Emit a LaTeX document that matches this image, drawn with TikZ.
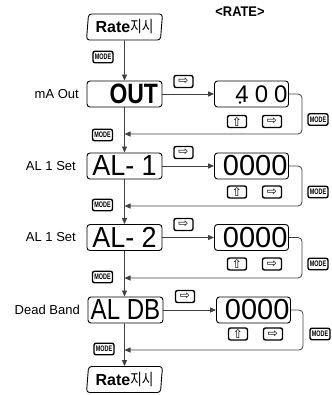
\documentclass[tikz,border=0pt]{standalone}
\usepackage{fontspec}
\setmainfont{Liberation Sans}
\newfontfamily\krfont{Noto Sans CJK KR}
\newfontfamily\symfont{DejaVu Sans}
\usetikzlibrary{arrows.meta,shapes.geometric}
\newcommand\dispfont{\fontsize{29}{29}\selectfont}
\newcommand\modetext{\scalebox{0.68}[1]{MODE}}
\begin{document}
\begin{tikzpicture}[x=1pt,y=-1pt,
  line/.style={draw=black!75, line width=0.8pt},
  flow/.style={line, -{Triangle[length=6pt,width=5pt]}},
  mainbox/.style={draw, rounded corners=3pt, line width=0.9pt, minimum height=26pt, minimum width=75pt, inner ysep=0pt, inner xsep=0pt},
  valbox/.style={draw, rounded corners=3pt, line width=0.9pt, minimum height=26pt, text width=72pt, inner xsep=1pt, inner ysep=0pt, align=right},
  ratebox/.style={trapezium, trapezium left angle=82, trapezium right angle=98, trapezium stretches body, draw, rounded corners=3pt, line width=0.9pt, minimum width=76pt, minimum height=26pt, inner sep=0pt, font=\fontsize{16}{16}\selectfont},
  key/.style={draw=black, line width=1.4pt, rounded corners=2pt, fill=white, minimum width=19pt, minimum height=12pt, inner sep=0pt, font=\symfont\fontsize{12}{12}\selectfont},
  modekey/.style={draw=black, line width=1.4pt, rounded corners=2pt, fill=white, minimum width=20pt, minimum height=11.5pt, inner sep=0pt, font=\fontsize{8}{8}\selectfont\bfseries},
  lbl/.style={anchor=east, inner sep=0pt, font=\fontsize{13}{13}\selectfont}
]
\useasboundingbox (0,0) rectangle (331,395);

% title
\node (title) at (240,12) {\fontsize{14}{14}\selectfont\bfseries\scalebox{0.92}[1]{<RATE>}};

% rate nodes
\node[ratebox] (rtop) at (124.5,27) {\textbf{Rate}\scalebox{0.78}[1]{\krfont 지시}};
\node[ratebox] (rbot) at (124.5,379.5) {\textbf{Rate}\scalebox{0.78}[1]{\krfont 지시}};

% main boxes
\node[mainbox, text width=67pt, inner xsep=4pt, align=right] (out) at (124.5,94) {\fontsize{28}{28}\selectfont\bfseries\scalebox{0.82}[1]{OUT}};
\node[mainbox] (al1) at (124.5,166) {\dispfont\scalebox{0.93}[1]{AL- 1}};
\node[mainbox] (al2) at (124.5,237.5) {\dispfont\scalebox{0.93}[1]{AL- 2}};
\node[mainbox] (aldb) at (125.5,310) {\dispfont\scalebox{0.83}[1]{AL DB}};

% labels
\node[lbl] (l1) at (79,94) {mA Out};
\node[lbl] (l2) at (76,166) {AL 1 Set};
\node[lbl] (l3) at (76,237.5) {AL 1 Set};
\node[lbl] (l4) at (80,310) {Dead Band};

% value boxes
\node[valbox] (v1) at (251.5,94) {\fontsize{24}{24}\selectfont 4\hspace{6pt}0\hspace{6pt}0};
\fill (240,102.5) circle (1.3pt);
\node[valbox] (v2) at (251.5,166) {\dispfont 0000};
\node[valbox] (v3) at (251.5,237.5) {\dispfont 0000};
\node[valbox] (v4) at (253.5,310) {\dispfont 0000};

% main vertical flow
\draw[flow] (rtop.south) -- (out.north);
\draw[flow] (out.south) -- (al1.north);
\draw[flow] (al1.south) -- (al2.north);
\draw[flow] (al2.south) -- (al2.south |- aldb.north);
\draw[flow] (aldb.south -| al2.south) -- (rbot.north);

% horizontal arrows
\draw[flow] (out.east) -- (v1.west);
\draw[flow] (al1.east) -- (v2.west);
\draw[flow] (al2.east) -- (v3.west);
\draw[flow] (aldb.east) -- (v4.west);

% return paths
\coordinate (c1) at (302,134);   \coordinate (m1) at (124.5,134);
\coordinate (c2) at (302,206);   \coordinate (m2) at (124.5,206);
\coordinate (c3) at (302,278);   \coordinate (m3) at (124.5,278);
\coordinate (c4) at (303,350);   \coordinate (m4) at (124.5,350);
\draw[flow, rounded corners=4pt] (v1.east) -| (c1) -- (m1);
\draw[flow, rounded corners=4pt] (v2.east) -| (c2) -- (m2);
\draw[flow, rounded corners=4pt] (v3.east) -| (c3) -- (m3);
\draw[flow, rounded corners=4pt] (v4.east) -| (c4) -- (m4);

% right-arrow keys above the arrows
\node[key] (k1) at (183.5,81.5) {⇨};
\node[key] (k2) at (183.5,152.5) {⇨};
\node[key] (k3) at (183.5,224.5) {⇨};
\node[key] (k4) at (185,296.5) {⇨};

% up / right keys below value boxes
\node[key] (u1) at (237,121.5) {⇧};  \node[key] (r1) at (272,121.5) {⇨};
\node[key] (u2) at (237,192) {⇧};    \node[key] (r2) at (272,192) {⇨};
\node[key] (u3) at (237,264) {⇧};    \node[key] (r3) at (272,264) {⇨};
\node[key] (u4) at (238,334) {⇧};    \node[key] (r4) at (273,334) {⇨};

% MODE keys
\node[modekey] (ml0) at (103,57) {\modetext};
\node[modekey] (ml1) at (102.5,135) {\modetext};
\node[modekey] (ml2) at (102.5,205) {\modetext};
\node[modekey] (ml3) at (102.5,277) {\modetext};
\node[modekey] (ml4) at (104,349) {\modetext};
\node[modekey] (mr1) at (318,119.5) {\modetext};
\node[modekey] (mr2) at (318,192) {\modetext};
\node[modekey] (mr3) at (318,264) {\modetext};
\node[modekey] (mr4) at (320,334) {\modetext};
\end{tikzpicture}
\end{document}
